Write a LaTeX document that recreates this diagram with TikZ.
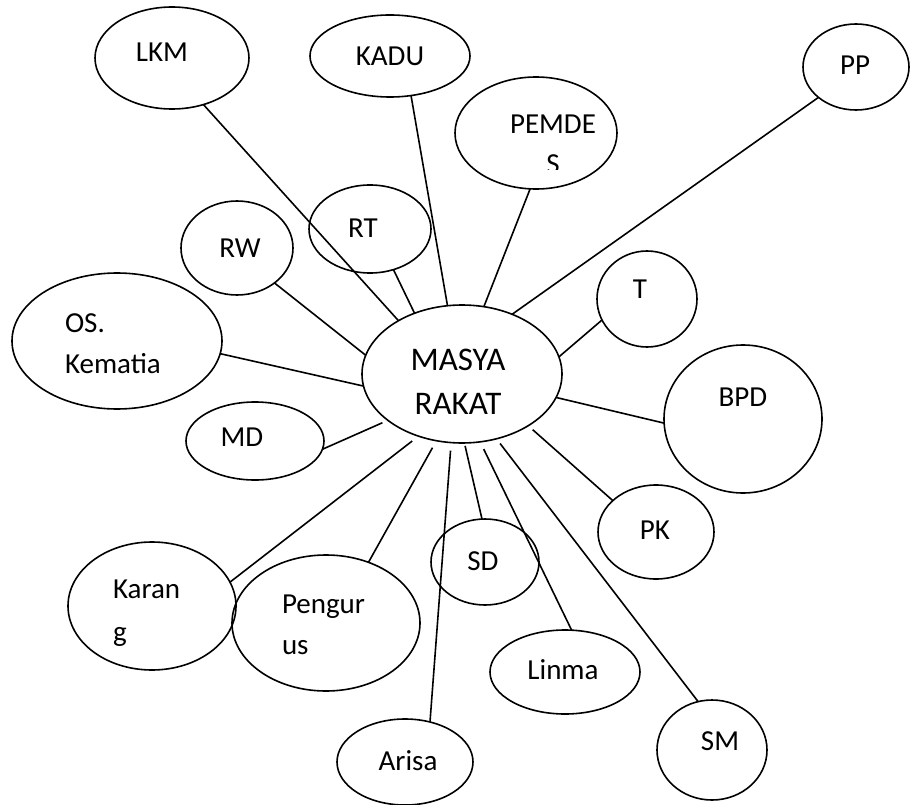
\documentclass[tikz,border=0pt]{standalone}
\usepackage{fontspec}
\setmainfont{Carlito}
\usetikzlibrary{shapes.geometric}
\tikzset{
  ell/.style={draw=black, ellipse, line width=1.6pt, inner sep=0pt, outer sep=0pt},
  lbl/.style={inner sep=0pt, outer sep=0pt, anchor=base, font=\fontsize{29}{43}\selectfont},
  lblw/.style={lbl, anchor=base west},
  lblbig/.style={lbl, font=\fontsize{33}{43}\selectfont},
  conn/.style={draw=black, line width=1.6pt}
}
\newcommand{\ellnode}[5]{\node[ell, minimum width=#4pt, minimum height=#5pt] (#1) at (#2,#3) {};}
\begin{document}
\begin{tikzpicture}[x=1pt,y=-1pt]
\useasboundingbox[fill=white] (0,0) rectangle (910,805);
% ellipses
\ellnode{lkm}{172}{58}{154}{102}
\ellnode{kadu}{390}{56}{160}{82}
\ellnode{pemdes}{536}{133}{162}{112}
\ellnode{pp}{856}{67}{106}{86}
\ellnode{rt}{370}{229}{122}{88}
\ellnode{rw}{237}{248}{112}{94}
\ellnode{os}{117}{341}{210}{136}
\ellnode{m}{462}{374}{200}{138}
\ellnode{t}{647}{299}{100}{96}
\ellnode{bpd}{743}{419}{158}{148}
\ellnode{md}{255}{441}{138}{78}
\ellnode{pk}{656}{532}{116}{94}
\ellnode{sd}{485}{562}{108}{86}
\ellnode{karang}{152}{606}{168}{128}
\ellnode{pengurus}{326}{623}{188}{136}
\ellnode{linma}{565}{672}{150}{84}
\ellnode{arisa}{405}{762}{136}{86}
\ellnode{sm}{712}{750}{110}{100}
% labels
\node[lbl] (lkmT) at (162,62) {LKM};
\node[lbl] (kaduT) at (390,66) {KADU};
\node[lbl] (pemdesT) at (553,134) {PEMDE};
\begin{scope}
\clip (450,140) rectangle (640,170);
\node[lbl] (pemdesS) at (553,174) {S};
\end{scope}
\node[lbl] (ppT) at (855,75) {PP};
\node[lbl] (rtT) at (363,237) {RT};
\node[lbl] (rwT) at (240,257) {RW};
\node[lblw] (osT1) at (65,332) {OS.};
\node[lblw] (osT2) at (65,373) {Kematia};
\node[lblbig] (mT1) at (458,370) {MASYA};
\node[lblbig] (mT2) at (458,414) {RAKAT};
\node[lbl] (tT) at (640,298) {T};
\node[lbl] (bpdT) at (743,406) {BPD};
\node[lbl] (mdT) at (242,446) {MD};
\node[lbl] (pkT) at (655,539) {PK};
\node[lbl] (sdT) at (483,570) {SD};
\node[lblw] (karangT1) at (113,598) {Karan};
\node[lblw] (karangT2) at (113,641) {g};
\node[lblw] (pengurusT1) at (282,613) {Pengur};
\node[lblw] (pengurusT2) at (282,654) {us};
\node[lbl] (linmaT) at (563,679) {Linma};
\node[lbl] (arisaT) at (408,770) {Arisa};
\node[lbl] (smT) at (720,750) {SM};
% connectors
\draw[conn] (lkm.-56.8) -- (m.140.9);
\draw[conn] (kadu.-62.9) -- (m.102.2);
\draw[conn] (pemdes.-96.2) -- (m.72.6);
\draw[conn] (pp.-141) -- (m.50.5);
\draw[conn] (rt.-60.9) -- (m.128.8);
\draw[conn] (rw.-43.5) -- (m.169.5);
\draw[conn] (os.-7.6) -- (m.187.4);
\draw[conn] (t.-155.3) -- (m.10.8);
\draw[conn] (bpd.-177.8) -- (m.-14.6);
\draw[conn, shorten >=6pt] (md.-7.3) -- (m.-148.4);
\draw[conn, shorten >=6pt] (pk.144.8) -- (m.-38);
\draw[conn, shorten >=8pt] (karang.17.4) -- (m.-125.5);
\draw[conn, shorten >=8pt] (pengurus.55.7) -- (m.-111.9);
\draw[conn, shorten >=8pt] (arisa.58.5) -- (m.-99.6);
\draw[conn, shorten >=3pt] (sd.94) -- (m.-88.4);
\draw[conn, shorten >=8pt] (linma.81.5) -- (m.-75.4);
\draw[conn, shorten >=6pt] (sm.106.2) -- (m.-62.8);
\end{tikzpicture}
\end{document}
